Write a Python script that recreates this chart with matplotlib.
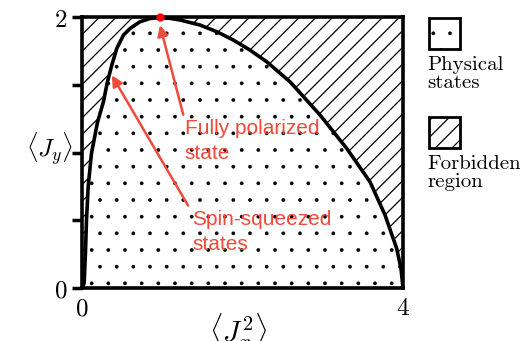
import matplotlib
matplotlib.use("Agg")
import matplotlib.pyplot as plt
from matplotlib.patches import Rectangle

plt.rcParams['mathtext.fontset'] = 'cm'

# boundary of the physical region
jx2 = [0.0, 0.025, 0.041, 0.054, 0.075, 0.116, 0.19, 0.265, 0.315, 0.370, 0.432,
       0.515, 0.600, 0.720, 0.85, 0.97, 1.10, 1.221, 1.470, 1.678, 1.885, 2.093,
       2.301, 2.592, 2.966, 3.298, 3.589, 3.776, 3.921, 3.975, 4.0]
jy = [0.0, 0.037, 0.258, 0.502, 0.748, 0.994, 1.22, 1.375, 1.522, 1.646, 1.769,
      1.867, 1.917, 1.965, 1.99, 1.995, 1.99, 1.978, 1.941, 1.892, 1.830, 1.756,
      1.670, 1.522, 1.277, 1.031, 0.784, 0.539, 0.293, 0.145, 0.0]

polarized = (0.97, 2.0)
polarized_arrow = [(1.26, 1.28), (0.97, 1.94)]
squeezed_arrow = [(1.32, 0.61), (0.37, 1.57)]
red = '#f04a3a'

fig = plt.figure(figsize=(5.2, 3.41), dpi=100)
ax = fig.add_axes([0.158, 0.155, 0.617, 0.795])

with plt.rc_context({'hatch.linewidth': 0.25}):
    ax.fill_between(jx2, 0, jy, facecolor='white', edgecolor='black', hatch='.', linewidth=0)
with plt.rc_context({'hatch.linewidth': 0.9}):
    ax.fill_between(jx2, jy, 2, facecolor='white', edgecolor='black', hatch='//', linewidth=0)
ax.plot(jx2, jy, color='black', lw=2.6, solid_joinstyle='round')

ax.set_xlim(0, 4)
ax.set_ylim(0, 2)
for s in ax.spines.values():
    s.set_linewidth(2.6)
ax.set_xticks([0, 4])
ax.set_xticklabels(['$0$', '$4$'], fontsize=18)
ax.set_yticks([0, 0.5, 1.0, 1.5, 2])
ax.set_yticklabels(['$0$', '', '', '', '$2$'], fontsize=18)
ax.tick_params(axis='y', direction='out', length=7.5, width=2.5, pad=3)
ax.tick_params(axis='x', length=0, pad=6)
ax.set_xlabel(r'$\langle J_x^2\rangle$', fontsize=21)
ax.xaxis.set_label_coords(0.485, -0.085)
ax.set_ylabel(r'$\langle J_y\rangle$', fontsize=18, rotation=0, va='center')
ax.yaxis.set_label_coords(-0.1, 0.51)

ax.plot(*polarized, 'o', color='red', ms=5, zorder=5, clip_on=False)

arrow = dict(arrowstyle='-|>', color=red, lw=1.8, mutation_scale=16, shrinkA=0, shrinkB=0)
ax.annotate('', xy=polarized_arrow[1], xytext=polarized_arrow[0], arrowprops=arrow)
ax.annotate('', xy=squeezed_arrow[1], xytext=squeezed_arrow[0], arrowprops=arrow)
ax.text(1.28, 1.25, 'Fully polarized\nstate', color=red, fontsize=15,
        family='Liberation Sans', va='top', ha='left', linespacing=1.45)
ax.text(1.37, 0.58, 'Spin-squeezed\nstates', color=red, fontsize=15,
        family='Liberation Sans', va='top', ha='left', linespacing=1.4)

# legend boxes
W, H = 520, 341
for (y0, hatch, lw_h, label) in [(18, '.', 0.25, 'Physical\nstates'),
                                 (117, '//', 0.9, 'Forbidden\nregion')]:
    with plt.rc_context({'hatch.linewidth': lw_h}):
        fig.add_artist(Rectangle((429 / W, 1 - (y0 + 31) / H), 31 / W, 31 / H,
                                 transform=fig.transFigure, facecolor='white',
                                 edgecolor='black', lw=2, hatch=hatch))
    fig.text(427 / W, 1 - (y0 + 38) / H, label, family='cmr10', fontsize=15,
             va='top', ha='left', linespacing=1.0)

fig.savefig('out.png', dpi=100)
